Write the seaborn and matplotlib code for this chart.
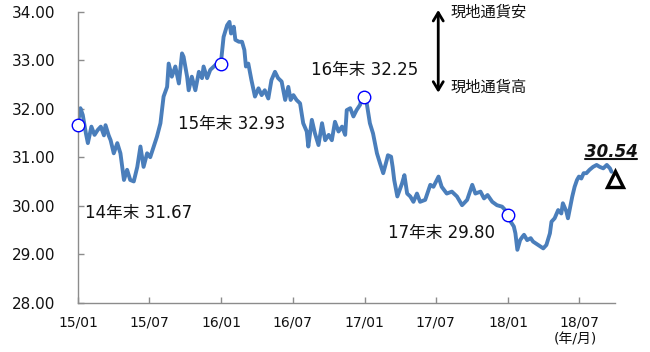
import matplotlib
matplotlib.use("Agg")
import matplotlib.pyplot as plt
from matplotlib.lines import Line2D
import seaborn as sns
import pandas as pd

# Daily TWD/USD rate, sampled points along the curve
dates = [
    "2014-12-31", "2015-01-07", "2015-01-13", "2015-01-21", "2015-01-26", "2015-02-04",
    "2015-02-12", "2015-02-20", "2015-02-28", "2015-03-08", "2015-03-12", "2015-03-20",
    "2015-03-25", "2015-04-02", "2015-04-11", "2015-04-19", "2015-04-28", "2015-05-06",
    "2015-05-14", "2015-05-23", "2015-06-01", "2015-06-09", "2015-06-17", "2015-06-26",
    "2015-07-04", "2015-07-13", "2015-07-21", "2015-07-30", "2015-08-07", "2015-08-16",
    "2015-08-20", "2015-08-28", "2015-09-06", "2015-09-15", "2015-09-23", "2015-09-27",
    "2015-10-06", "2015-10-10", "2015-10-18", "2015-10-27", "2015-11-05", "2015-11-13",
    "2015-11-17", "2015-11-26", "2015-12-04", "2015-12-21", "2015-12-31",
    "2016-01-07", "2016-01-16", "2016-01-22", "2016-01-26", "2016-02-02", "2016-02-06",
    "2016-02-15", "2016-02-23", "2016-02-29", "2016-03-04", "2016-03-10", "2016-03-18",
    "2016-03-27", "2016-04-05", "2016-04-13", "2016-04-21", "2016-04-30", "2016-05-08",
    "2016-05-17", "2016-05-25", "2016-06-03", "2016-06-12", "2016-06-20", "2016-06-26",
    "2016-07-03", "2016-07-11", "2016-07-20", "2016-07-28", "2016-08-06", "2016-08-10",
    "2016-08-19", "2016-08-27", "2016-09-05", "2016-09-14", "2016-09-22", "2016-10-01",
    "2016-10-09", "2016-10-17", "2016-10-26", "2016-11-04", "2016-11-12", "2016-11-16",
    "2016-11-25", "2016-12-03", "2016-12-11", "2016-12-20", "2016-12-24", "2016-12-31",
    "2017-01-06", "2017-01-14", "2017-01-22", "2017-02-01", "2017-02-09", "2017-02-17",
    "2017-02-26", "2017-03-01", "2017-03-09", "2017-03-13", "2017-03-17", "2017-03-25",
    "2017-04-06", "2017-04-12", "2017-04-19", "2017-04-27", "2017-05-05", "2017-05-14",
    "2017-05-22", "2017-06-04", "2017-06-17", "2017-06-25", "2017-07-08", "2017-07-16",
    "2017-07-29", "2017-08-11", "2017-08-24", "2017-09-06", "2017-09-19", "2017-10-02",
    "2017-10-10", "2017-10-23", "2017-11-01", "2017-11-10", "2017-11-22", "2017-12-04",
    "2017-12-17", "2017-12-25", "2017-12-31",
    "2018-01-08", "2018-01-16", "2018-01-20", "2018-01-25", "2018-02-01", "2018-02-07",
    "2018-02-11", "2018-02-19", "2018-02-28", "2018-03-06", "2018-03-19", "2018-04-01",
    "2018-04-09", "2018-04-18", "2018-04-22", "2018-04-30", "2018-05-09", "2018-05-17",
    "2018-05-21", "2018-05-30", "2018-06-03", "2018-06-09", "2018-06-14", "2018-06-20",
    "2018-06-26", "2018-07-01", "2018-07-07", "2018-07-13", "2018-07-20", "2018-07-28",
    "2018-08-06", "2018-08-15", "2018-08-23", "2018-09-01", "2018-09-10", "2018-09-18",
    "2018-09-22",
]
rates = [
    31.67, 32.01, 31.87, 31.49, 31.29, 31.63,
    31.46, 31.56, 31.63, 31.45, 31.66, 31.45,
    31.35, 31.08, 31.29, 31.08, 30.53, 30.74,
    30.53, 30.50, 30.80, 31.22, 30.80, 31.08,
    31.00, 31.22, 31.42, 31.70, 32.25, 32.45,
    32.93, 32.66, 32.87, 32.52, 33.14, 33.07,
    32.66, 32.38, 32.66, 32.38, 32.76, 32.63,
    32.87, 32.63, 32.80, 32.93, 32.93,
    33.48, 33.72, 33.79, 33.55, 33.69, 33.42,
    33.38, 33.38, 33.21, 32.87, 32.93, 32.59,
    32.25, 32.42, 32.28, 32.38, 32.21, 32.59,
    32.76, 32.63, 32.56, 32.18, 32.45, 32.18,
    32.28, 32.18, 32.11, 31.70, 31.53, 31.22,
    31.77, 31.49, 31.25, 31.70, 31.35, 31.46,
    31.35, 31.73, 31.53, 31.63, 31.46, 31.97,
    32.01, 31.84, 31.97, 32.08, 32.21, 32.25,
    32.11, 31.70, 31.49, 31.08, 30.87, 30.67,
    30.94, 31.04, 31.01, 30.80, 30.53, 30.19,
    30.46, 30.63, 30.25, 30.19, 30.08, 30.25,
    30.08, 30.12, 30.43, 30.39, 30.60, 30.39,
    30.25, 30.29, 30.19, 30.01, 30.12, 30.43,
    30.25, 30.29, 30.15, 30.22, 30.08, 30.01,
    29.98, 29.91, 29.80,
    29.67, 29.57, 29.43, 29.09, 29.29, 29.36,
    29.40, 29.29, 29.33, 29.26, 29.19, 29.12,
    29.19, 29.43, 29.67, 29.74, 29.91, 29.84,
    30.05, 29.88, 29.74, 29.98, 30.19, 30.39,
    30.53, 30.60, 30.56, 30.67, 30.67, 30.74,
    30.80, 30.84, 30.80, 30.77, 30.84, 30.77,
    30.70,
]

year_end_dates = ["2014-12-31", "2015-12-31", "2016-12-31", "2017-12-31"]
year_end_rates = [31.67, 32.93, 32.25, 29.80]
year_end_names = ["14年末", "15年末", "16年末", "17年末"]

forecast_date = "2018-10-01"
forecast_rate = 30.54

tick_dates = ["2015-01-01", "2015-07-01", "2016-01-01", "2016-07-01",
              "2017-01-01", "2017-07-01", "2018-01-01", "2018-07-01"]
tick_labels = ["15/01", "15/07", "16/01", "16/07", "17/01", "17/07", "18/01", "18/07"]
y_ticks = [28, 29, 30, 31, 32, 33, 34]

sns.set_theme(style="white")
plt.rcParams["font.family"] = ["DejaVu Sans", "Noto Sans CJK JP"]

fig = plt.figure(figsize=(6.5, 3.52), dpi=100)
ax = fig.add_axes([0.1195, 0.1401, 0.8267, 0.8267])

df = pd.DataFrame({"date": pd.to_datetime(dates), "rate": rates})
sns.lineplot(data=df, x="date", y="rate", ax=ax, color="#4A7EBB", lw=2.8)

# year-end markers
ax.plot(pd.to_datetime(year_end_dates), year_end_rates, ls="none", marker="o",
        ms=9, mfc="white", mec="#0000FF", mew=1.0, zorder=5, clip_on=False)

# forecast marker
ax.plot(pd.to_datetime([forecast_date]), [forecast_rate], ls="none", marker="^",
        ms=11, mfc="none", mec="black", mew=2.4, zorder=6, clip_on=False)

ax.set_xlim(pd.Timestamp("2014-12-31"), pd.Timestamp("2018-10-01"))
ax.set_ylim(28, 34)
ax.set_xticks(pd.to_datetime(tick_dates))
ax.set_xticklabels(tick_labels, fontsize=10)
ax.set_yticks(y_ticks)
ax.set_yticklabels([f"{v:.2f}" for v in y_ticks], fontsize=11)
ax.set_xlabel("")
ax.set_ylabel("")

for s in ("top", "right"):
    ax.spines[s].set_visible(False)
for s in ("left", "bottom"):
    ax.spines[s].set_color("#8C8C8C")
    ax.spines[s].set_linewidth(1.0)
ax.tick_params(axis="both", direction="in", length=4, width=1.0, color="#8C8C8C",
               left=True, bottom=True, labelcolor="#111111")
ax.tick_params(axis="y", pad=16)
ax.tick_params(axis="x", pad=9)

# year-end labels
label_pos = [(0.0136, 0.308), (0.187, 0.614), (0.4337, 0.80), (0.578, 0.2405)]
for name, val, (tx, ty) in zip(year_end_names, year_end_rates, label_pos):
    ax.text(tx, ty, f"{name} {val:.2f}", transform=ax.transAxes, ha="left",
            va="center", fontsize=12, color="#111111")

# direction arrow
ax.annotate("", xy=(0.671, 1.006), xytext=(0.671, 0.7216), xycoords="axes fraction",
            textcoords="axes fraction",
            arrowprops=dict(arrowstyle="<->,head_length=0.5,head_width=0.3",
                            color="black", lw=2.0, shrinkA=0, shrinkB=0))
ax.text(0.693, 0.998, "現地通貨安", transform=ax.transAxes, ha="left", va="center",
        fontsize=11, color="#111111")
ax.text(0.693, 0.739, "現地通貨高", transform=ax.transAxes, ha="left", va="center",
        fontsize=11, color="#111111")

# forecast value label, underlined
ft = ax.text(0.9926, 0.518, f"{forecast_rate:.2f}", transform=ax.transAxes,
             ha="center", va="center", fontsize=12, fontweight="bold",
             style="italic", color="#111111")

ax.text(0.9256, -0.128, "(年/月)", transform=ax.transAxes, ha="center", va="center",
        fontsize=10, color="#111111")

fig.canvas.draw()
bb = ft.get_window_extent()
inv = fig.transFigure.inverted()
(x0, y0), (x1, _) = inv.transform([(bb.x0, bb.y0 + 2), (bb.x1, bb.y0 + 2)])
fig.add_artist(Line2D([x0, x1], [y0, y0], transform=fig.transFigure,
                      color="#111111", lw=1.5))

fig.savefig("out.png", dpi=100)
